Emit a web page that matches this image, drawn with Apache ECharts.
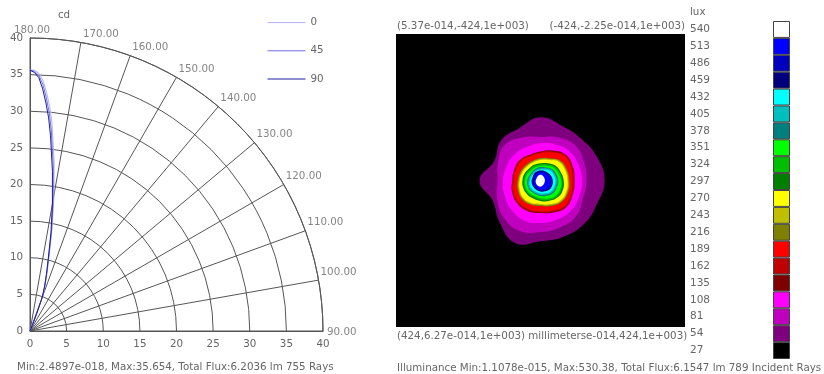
<!DOCTYPE html>
<html><head><meta charset="utf-8">
<script src="https://cdn.jsdelivr.net/npm/echarts@6/dist/echarts.min.js"></script>
<style>html,body{margin:0;padding:0;background:#fff}#c{width:824px;height:374px}</style>
</head><body><div id="c"></div>
<script>
// ---------- Data: polar intensity (cd) ----------
const seriesNames = ['0', '45', '90'];
const beamAngles = [180,179,178,177,176,175,174,172,170,168,166,164,162,160,159,158,156,150,135,90];
const cd0  = [35.65,35.6,35.2,34.2,32.6,30.8,28.6,23.6,18.8,14.6,11.0,8.6,6.8,5.1,2.6,1.1,0.3,0.05,0,0];
const cd45 = [35.65,35.45,34.9,33.7,31.9,30.0,27.7,22.8,18.2,14.2,10.7,8.4,6.6,5.0,2.5,1.05,0.3,0.05,0,0];
const cd90 = [35.6,35.3,34.6,33.1,31.2,29.2,26.8,22.0,17.6,13.8,10.4,8.2,6.5,4.9,2.4,1.0,0.3,0.05,0,0];
const angleLabels = [90,100,110,120,130,140,150,160,170,180];

// ---------- Data: illuminance map (lux), contour radii in mm every 22.5 deg ----------
const peakCenter = [0, 0];
const contourLevels = [54,81,108,135,162,189,216,243,270,297,324,351,378,405,432,459,486,513,540];
const contourRadii = [
  [188,179,170,170,183,164,164,147,179,152,170,196,176,176,179,179],
  [135,138,144,135,126,135,147,135,126,138,152,158,149,147,147,135],
  [122,120,120,113,108,105,107,107,110,114,120,125,123,123,125,122],
  [100,103,105,94,84,81,85,83,83,90,95,96,94,100,108,103],
  [97,100,102,91,82,79,82,80,80,87,92,93,92,97,105,100],
  [94,97,100,88,79,76,80,78,78,85,89,90,89,94,102,97],
  [85,84,82,70,65,62,62,64,67,72,77,76,74,80,88,88],
  [82,81,79,67,62,59,59,61,64,69,74,73,71,77,85,85],
  [79,78,76,64,59,56,56,58,61,66,71,70,68,74,82,82],
  [68,64,61,54,50,49,48,51,53,55,56,56,59,64,70,71],
  [64,61,57,50,47,46,45,47,49,51,52,52,56,61,67,67],
  [60,56,53,46,42,41,40,43,45,47,48,48,51,56,62,63],
  [52,50,47,41,39,37,35,36,39,41,42,42,45,48,52,52],
  [48,46,44,38,35,34,32,33,35,38,39,39,41,44,48,48],
  [44,42,40,34,31,30,28,29,31,34,35,35,37,40,44,44],
  [36,34,31,30,29,28,27,25,26,27,28,30,32,34,37,37],
  [33,31,28,27,26,25,24,22,23,24,25,27,29,31,34,34],
  [29,28,25,24,22,21,21,19,19,21,22,23,26,27,30,30],
  [13,13,14,16,17,16,14,13,14,15,16,17,18,16,14,13]
];
const colorbarLevels = [27,54,81,108,135,162,189,216,243,270,297,324,351,378,405,432,459,486,513,540];

// ---------- Styles ----------
const colorbarColors = ['#000000','#7f007f','#bf00bf','#ff00ff','#7f0000','#bf0000','#ff0000','#7f7f00','#bfbf00','#ffff00',
  '#007f00','#00bf00','#00ff00','#007f7f','#00bfbf','#00ffff','#00007f','#0000bf','#0000ff','#ffffff'];
const lineColors = ['#b0b0f4', '#7070e0', '#1c1ca0'];
const FONT = 'DejaVu Sans';
const TXT = '#666';
const FS = 10.3;

const chart = echarts.init(document.getElementById('c'));

const polarSeries = [cd0, cd45, cd90].map((vals, i) => ({
  name: seriesNames[i], type: 'line', coordinateSystem: 'polar', polarIndex: 0,
  data: vals.map((v, k) => [v, beamAngles[k]]),
  symbol: 'none', smooth: false, z: 5, silent: true,
  lineStyle: { width: 1, color: lineColors[i] }, itemStyle: { color: lineColors[i] }
}));

const angleLabelSeries = {
  type: 'scatter', coordinateSystem: 'polar', polarIndex: 0, symbolSize: 1, silent: true,
  itemStyle: { color: 'rgba(0,0,0,0)' },
  data: angleLabels.map(a => {
    let lab = { align: 'left', verticalAlign: 'bottom', offset: [2, -3] };
    if (a === 180) lab = { align: 'center', verticalAlign: 'bottom', offset: [2, -3] };
    if (a === 90) lab = { align: 'left', verticalAlign: 'middle', offset: [4, 1] };
    return { value: [40, a], label: lab };
  }),
  label: { show: true, position: 'inside', formatter: p => p.value[1].toFixed(2),
    color: TXT, fontSize: FS, fontFamily: FONT }
};

const contourSeries = {
  type: 'custom', coordinateSystem: 'cartesian2d', xAxisIndex: 1, yAxisIndex: 1, silent: true,
  data: contourLevels.map((lv, i) => [lv, i]),
  renderItem: (params, api) => {
    const idx = api.value(1);
    const radii = contourRadii[idx];
    const n = radii.length;
    const pts = radii.map((r, k) => {
      const a = 2 * Math.PI * k / n;
      return api.coord([peakCenter[0] + r * Math.cos(a), peakCenter[1] + r * Math.sin(a)]);
    });
    return { type: 'polygon', shape: { points: pts, smooth: 0.45 },
      style: { fill: api.visual('color') || colorbarColors[idx + 1] } };
  }
};

const colorbarSeries = {
  type: 'bar', xAxisIndex: 2, yAxisIndex: 2, barWidth: '100%', silent: true,
  data: colorbarLevels.map((v, i) => ({ value: 1, itemStyle: { color: colorbarColors[i] } })),
  itemStyle: { borderColor: '#444', borderWidth: 1 }
};

function txt(text, x, y, align) {
  return { type: 'text', silent: true, style: { text, x, y, fill: TXT,
    font: FS + 'px "' + FONT + '"', align: align || 'left', verticalAlign: 'middle',
    textAlign: align || 'left', textVerticalAlign: 'middle' } };
}

chart.setOption({
  animation: false,
  textStyle: { fontFamily: FONT },
  legend: {
    data: seriesNames, orient: 'vertical', left: 262, top: 12, itemWidth: 38, itemHeight: 14,
    itemGap: 17, itemStyle: { opacity: 0 }, lineStyle: { width: 1 },
    textStyle: { color: TXT, fontSize: FS, fontFamily: FONT }, selectedMode: false
  },
  visualMap: {
    show: false, type: 'piecewise', seriesIndex: 4, dimension: 0,
    pieces: colorbarLevels.map((v, i) => ({ value: v, color: colorbarColors[i] }))
  },
  polar: { center: [30, 331], radius: 293 },
  angleAxis: {
    type: 'value', min: 90, max: 180, interval: 10, startAngle: 0, endAngle: 90, clockwise: false,
    axisLine: { show: true, lineStyle: { color: '#555', width: 1 } },
    axisTick: { show: false }, axisLabel: { show: false },
    splitLine: { show: true, lineStyle: { color: '#555', width: 1 } }
  },
  radiusAxis: {
    type: 'value', min: 0, max: 40, interval: 5,
    axisLine: { show: false }, axisTick: { show: false }, axisLabel: { show: false },
    splitLine: { show: true, lineStyle: { color: '#555', width: 1 } }
  },
  grid: [
    { left: 30, top: 38, width: 293, height: 293 },
    { left: 396, top: 34, width: 289, height: 293, show: true, backgroundColor: '#000', borderWidth: 0 },
    { left: 773, top: 21, width: 17, height: 338 }
  ],
  xAxis: [
    { gridIndex: 0, type: 'value', min: 0, max: 40, interval: 5,
      axisLine: { show: true, lineStyle: { color: '#555' } }, axisTick: { show: false }, splitLine: { show: false },
      axisLabel: { color: TXT, fontSize: FS, margin: 8 } },
    { gridIndex: 1, type: 'value', min: -424, max: 424, show: false },
    { gridIndex: 2, type: 'value', min: 0, max: 1, show: false }
  ],
  yAxis: [
    { gridIndex: 0, type: 'value', min: 0, max: 40, interval: 5,
      axisLine: { show: true, lineStyle: { color: '#555' } }, axisTick: { show: false }, splitLine: { show: false },
      axisLabel: { color: TXT, fontSize: FS, margin: 7 } },
    { gridIndex: 1, type: 'value', min: -424, max: 424, show: false },
    { gridIndex: 2, type: 'category', data: colorbarLevels.map(String),
      axisLine: { show: false }, axisTick: { show: false }, splitLine: { show: false },
      axisLabel: { align: 'left', margin: 83, color: TXT, fontSize: 10.5, padding: [0, 0, 8, 0] } }
  ],
  series: [polarSeries[0], polarSeries[1], polarSeries[2], angleLabelSeries, contourSeries, colorbarSeries],
  graphic: [
    txt('cd', 64, 15, 'center'),
    txt('lux', 690, 12, 'left'),
    txt('(5.37e-014,-424,1e+003)', 397, 26, 'left'),
    txt('(-424,-2.25e-014,1e+003)', 685, 26, 'right'),
    txt('(424,6.27e-014,1e+003) millimeterse-014,424,1e+003)', 397, 336, 'left'),
    txt('Min:2.4897e-018, Max:35.654, Total Flux:6.2036 lm 755 Rays', 17, 367, 'left'),
    txt('Illuminance Min:1.1078e-015, Max:530.38, Total Flux:6.1547 lm 789 Incident Rays', 397, 368, 'left')
  ]
});
</script>
</body></html>
